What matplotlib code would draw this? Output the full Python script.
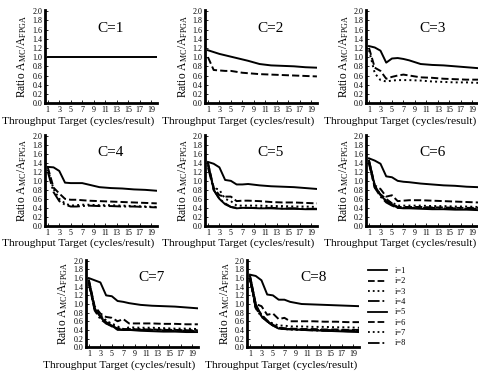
import matplotlib
matplotlib.use("Agg")
import matplotlib.pyplot as plt
from matplotlib.lines import Line2D

plt.rcParams["font.family"] = ["Liberation Serif", "DejaVu Serif"]
plt.rcParams["mathtext.default"] = "regular"

# throughput target (cycles/result)
x_target = [1, 2, 3, 4, 5, 6, 7, 8, 10, 12, 14, 16, 18, 20]

# ratio A_MC / A_FPGA, one list per i, for each C
ratio_c1 = [[1.0] * 14]
ratio_c2 = [
    [1.15, 1.11, 1.07, 1.04, 1.01, 0.98, 0.95, 0.92, 0.85, 0.82, 0.81, 0.80, 0.78, 0.77],
    [1.00, 0.72, 0.71, 0.70, 0.70, 0.68, 0.66, 0.65, 0.63, 0.62, 0.61, 0.60, 0.59, 0.58],
]
ratio_c3 = [
    [1.24, 1.21, 1.14, 0.88, 0.97, 0.98, 0.96, 0.93, 0.85, 0.83, 0.82, 0.80, 0.78, 0.76],
    [1.20, 0.77, 0.70, 0.53, 0.57, 0.60, 0.62, 0.60, 0.56, 0.55, 0.53, 0.52, 0.51, 0.51],
    [1.15, 0.65, 0.50, 0.47, 0.49, 0.50, 0.50, 0.50, 0.49, 0.47, 0.46, 0.45, 0.45, 0.44],
]
ratio_c4 = [
    [1.31, 1.30, 1.22, 0.96, 0.95, 0.95, 0.95, 0.92, 0.86, 0.84, 0.83, 0.81, 0.80, 0.78],
    [1.30, 0.85, 0.72, 0.60, 0.58, 0.58, 0.57, 0.56, 0.55, 0.54, 0.53, 0.52, 0.51, 0.50],
    [1.25, 0.82, 0.60, 0.50, 0.45, 0.46, 0.47, 0.47, 0.46, 0.46, 0.45, 0.44, 0.43, 0.42],
    [1.20, 0.75, 0.55, 0.47, 0.43, 0.43, 0.44, 0.45, 0.44, 0.44, 0.43, 0.43, 0.42, 0.41],
]
ratio_c5 = [
    [1.42, 1.38, 1.30, 1.02, 1.00, 0.92, 0.92, 0.93, 0.90, 0.88, 0.87, 0.86, 0.84, 0.82],
    [1.40, 0.85, 0.68, 0.65, 0.65, 0.55, 0.56, 0.56, 0.55, 0.53, 0.52, 0.52, 0.51, 0.50],
    [1.35, 0.85, 0.80, 0.60, 0.55, 0.45, 0.45, 0.45, 0.45, 0.44, 0.44, 0.43, 0.43, 0.42],
    [1.30, 0.80, 0.60, 0.50, 0.42, 0.40, 0.40, 0.40, 0.40, 0.40, 0.39, 0.39, 0.38, 0.38],
    [1.40, 0.80, 0.60, 0.48, 0.42, 0.39, 0.40, 0.40, 0.39, 0.39, 0.38, 0.38, 0.37, 0.37],
]
ratio_c6 = [
    [1.50, 1.45, 1.38, 1.10, 1.08, 1.00, 0.98, 0.97, 0.94, 0.92, 0.90, 0.89, 0.87, 0.86],
    [1.45, 0.90, 0.82, 0.65, 0.68, 0.55, 0.56, 0.57, 0.57, 0.56, 0.55, 0.54, 0.53, 0.52],
    [1.42, 0.88, 0.70, 0.55, 0.52, 0.45, 0.45, 0.45, 0.45, 0.44, 0.44, 0.43, 0.43, 0.42],
    [1.40, 0.85, 0.65, 0.52, 0.45, 0.40, 0.40, 0.40, 0.40, 0.40, 0.39, 0.39, 0.38, 0.38],
    [1.45, 0.90, 0.68, 0.55, 0.48, 0.40, 0.39, 0.39, 0.38, 0.37, 0.37, 0.36, 0.36, 0.35],
    [1.38, 0.85, 0.70, 0.60, 0.50, 0.42, 0.42, 0.42, 0.42, 0.41, 0.41, 0.40, 0.40, 0.40],
]
ratio_c7 = [
    [1.60, 1.55, 1.50, 1.20, 1.18, 1.07, 1.05, 1.02, 0.98, 0.96, 0.95, 0.94, 0.92, 0.90],
    [1.55, 0.95, 0.78, 0.70, 0.68, 0.60, 0.65, 0.55, 0.55, 0.55, 0.54, 0.54, 0.53, 0.53],
    [1.50, 0.90, 0.70, 0.60, 0.55, 0.48, 0.42, 0.46, 0.45, 0.45, 0.44, 0.43, 0.43, 0.42],
    [1.50, 0.85, 0.65, 0.55, 0.48, 0.42, 0.40, 0.40, 0.40, 0.40, 0.39, 0.38, 0.38, 0.37],
    [1.55, 0.90, 0.70, 0.55, 0.50, 0.40, 0.40, 0.40, 0.38, 0.37, 0.36, 0.36, 0.35, 0.35],
    [1.45, 0.88, 0.72, 0.58, 0.50, 0.43, 0.42, 0.42, 0.41, 0.41, 0.40, 0.40, 0.39, 0.39],
    [1.50, 0.90, 0.75, 0.62, 0.52, 0.45, 0.42, 0.42, 0.42, 0.41, 0.41, 0.40, 0.40, 0.40],
]
ratio_c8 = [
    [1.68, 1.65, 1.55, 1.22, 1.20, 1.10, 1.10, 1.05, 1.00, 0.99, 0.98, 0.97, 0.96, 0.95],
    [1.65, 1.00, 0.95, 0.75, 0.78, 0.65, 0.68, 0.60, 0.60, 0.60, 0.59, 0.59, 0.58, 0.58],
    [1.60, 0.95, 0.75, 0.60, 0.55, 0.50, 0.50, 0.48, 0.48, 0.47, 0.47, 0.46, 0.46, 0.45],
    [1.60, 0.90, 0.70, 0.60, 0.50, 0.45, 0.42, 0.42, 0.41, 0.40, 0.40, 0.39, 0.39, 0.38],
    [1.65, 1.00, 0.72, 0.60, 0.50, 0.43, 0.42, 0.42, 0.40, 0.39, 0.38, 0.37, 0.36, 0.35],
    [1.60, 0.95, 0.75, 0.62, 0.52, 0.45, 0.44, 0.43, 0.42, 0.42, 0.41, 0.41, 0.40, 0.40],
    [1.55, 0.90, 0.72, 0.60, 0.50, 0.44, 0.42, 0.41, 0.40, 0.40, 0.39, 0.39, 0.38, 0.38],
    [1.58, 0.92, 0.74, 0.60, 0.50, 0.45, 0.42, 0.41, 0.40, 0.39, 0.38, 0.38, 0.37, 0.37],
]
all_ratios = [ratio_c1, ratio_c2, ratio_c3, ratio_c4, ratio_c5, ratio_c6, ratio_c7, ratio_c8]

xticks = [1, 3, 5, 7, 9, 11, 13, 15, 17, 19]
yticks = [0.0, 0.2, 0.4, 0.6, 0.8, 1.0, 1.2, 1.4, 1.6, 1.8, 2.0]
styles = ["-", "--", ":", "-.", "-", "--", ":", "-."]

fig = plt.figure(figsize=(4.78, 3.79), dpi=100)

# axes boxes in figure fraction (left, bottom, width, height)
W = 0.234
boxes = [
    (0.094, 0.728, W, 0.245), (0.429, 0.728, W, 0.245), (0.766, 0.728, W, 0.245),
    (0.094, 0.404, W, 0.240), (0.429, 0.404, W, 0.240), (0.766, 0.404, W, 0.240),
    (0.180, 0.084, W, 0.230), (0.517, 0.084, W, 0.230),
]

for k, ratios in enumerate(all_ratios):
    ax = fig.add_axes(boxes[k])
    for i, ys in enumerate(ratios):
        ax.plot(x_target, ys, color="black", linestyle=styles[i], linewidth=1.4)
    ax.set_xlim(0.5, 20)
    ax.set_ylim(0, 2.02)
    ax.set_xticks(xticks)
    ax.set_yticks(yticks)
    ax.set_yticklabels([f"{v:.1f}" for v in yticks])
    ax.tick_params(labelsize=5.8, length=2, width=0.6, direction="in", pad=2)
    for s in ["top", "right"]:
        ax.spines[s].set_visible(False)
    for s in ["left", "bottom"]:
        ax.spines[s].set_linewidth(2)
    # label sits left of the axis centre, like in the original
    ax.set_xlabel("Throughput Target (cycles/result)", fontsize=8.2, labelpad=1.5, x=0.3)
    ax.set_ylabel("Ratio A$_{MC}$/A$_{FPGA}$", fontsize=8.3, labelpad=2)
    ax.text(12, 1.62, f"C={k + 1}", fontsize=11, ha="center", va="center")

handles = [Line2D([], [], color="black", linestyle=styles[i], linewidth=1.3) for i in range(8)]
labels = [f"i={i + 1}" for i in range(8)]
fig.legend(handles, labels, loc="upper left", bbox_to_anchor=(0.755, 0.315),
           frameon=False, fontsize=6, handlelength=2.2, labelspacing=0.28,
           handletextpad=1.0)

fig.savefig("out.png", dpi=100)
